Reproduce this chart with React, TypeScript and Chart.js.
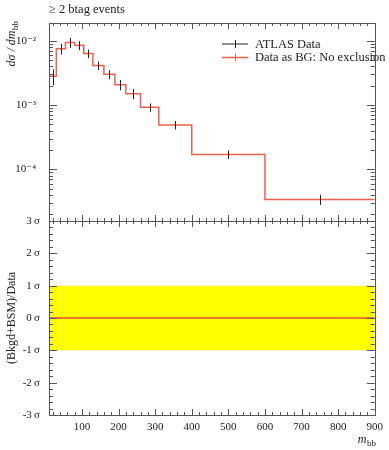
import React, { useEffect, useRef } from "react";
import { Chart, registerables } from "chart.js";
Chart.register(...registerables);

// ---- data ----
const binEdges = [10, 30, 55, 80, 105, 130, 160, 190, 220, 260, 310, 400, 600, 900];
const xsec = [2.8e-3, 7.5e-3, 9.4e-3, 8.5e-3, 6.3e-3, 4.1e-3, 3.0e-3, 2.07e-3, 1.5e-3, 9.2e-4, 4.9e-4, 1.7e-4, 3.4e-5];
const relErr = [0.28, 0.19, 0.18, 0.16, 0.15, 0.15, 0.16, 0.18, 0.18, 0.15, 0.15, 0.15, 0.18];
const ratioValues = [0, 0]; // deviation in sigma at x range ends
const bandLimits = [-1, 1];
const xTicks = [100, 200, 300, 400, 500, 600, 700, 800, 900];
const yTicksTop = [1e-4, 1e-3, 1e-2];
const yTickLabelsTop = ["10\u207B\u2074", "10\u207B\u00B3", "10\u207B\u00B2"];
const sigmaTicks = [-3, -2, -1, 0, 1, 2, 3];
const legendLabels = ["ATLAS Data", "Data as BG: No exclusion"];
const titleText = "\u2265 2 btag events";

const X_MIN = 10;
const X_MAX = 900;
const Y_MIN = 1.57e-5;
const Y_MAX = 0.01884;

const SERIF = "'Liberation Serif', 'DejaVu Serif', serif";
const RED = "#f0604a";
const AXIS = "#555";
const TEXT = "#222";

const overlay = {
  id: "overlay",
  afterDatasetsDraw(chart: any) {
    const { ctx, scales } = chart;
    const x = scales.x;
    const yt = scales.y;
    const yb = scales.y2;
    ctx.save();

    // error bars
    ctx.strokeStyle = "#222";
    ctx.lineWidth = 1;
    xsec.forEach((v, i) => {
      const cx = Math.round(x.getPixelForValue((binEdges[i] + binEdges[i + 1]) / 2)) + 0.5;
      const e = v * relErr[i];
      ctx.beginPath();
      ctx.moveTo(cx, yt.getPixelForValue(v + e));
      ctx.lineTo(cx, yt.getPixelForValue(v - e));
      ctx.stroke();
    });

    const L = x.left;
    const R = x.right;
    ctx.strokeStyle = AXIS;
    ctx.lineWidth = 1;
    const line = (x1: number, y1: number, x2: number, y2: number) => {
      ctx.beginPath();
      ctx.moveTo(x1, y1);
      ctx.lineTo(x2, y2);
      ctx.stroke();
    };
    const r = (v: number) => Math.round(v) + 0.5;

    const panels = [
      { top: yt.top, bottom: yt.bottom },
      { top: yb.top, bottom: yb.bottom },
    ];
    // frames
    panels.forEach((p) => {
      ctx.strokeRect(r(L), r(p.top), Math.round(R - L), Math.round(p.bottom - p.top));
    });
    // x ticks
    panels.forEach((p) => {
      for (let v = 20; v < X_MAX; v += 20) {
        const px = r(x.getPixelForValue(v));
        const len = v % 100 === 0 ? 6 : 3;
        line(px, p.top, px, p.top + len);
        line(px, p.bottom, px, p.bottom - len);
      }
    });
    // log y ticks
    for (let n = -5; n <= -2; n++) {
      for (let k = 1; k <= 9; k++) {
        const v = k * Math.pow(10, n);
        if (v <= Y_MIN || v >= Y_MAX) continue;
        const py = r(yt.getPixelForValue(v));
        const len = k === 1 ? 8 : 4;
        line(L, py, L + len, py);
        line(R, py, R - len, py);
      }
    }
    // sigma ticks
    for (let i = -15; i <= 15; i++) {
      const v = i / 5;
      const py = r(yb.getPixelForValue(v));
      const len = i % 5 === 0 ? 8 : 4;
      line(L, py, L + len, py);
      line(R, py, R - len, py);
    }

    // legend
    const legendColors = ["#222", RED];
    const legendY = [44, 57.5];
    legendLabels.forEach((lab, i) => {
      ctx.strokeStyle = legendColors[i];
      ctx.lineWidth = i === 1 ? 1.5 : 1;
      line(222, legendY[i], 248, legendY[i]);
      ctx.lineWidth = 1;
      line(235.5, legendY[i] - 4, 235.5, legendY[i] + 4);
      ctx.fillStyle = TEXT;
      ctx.font = `12.5px ${SERIF}`;
      ctx.textAlign = "left";
      ctx.textBaseline = "middle";
      ctx.fillText(lab, 255, legendY[i] + 0.5);
    });

    // title
    ctx.fillStyle = TEXT;
    ctx.textBaseline = "alphabetic";
    ctx.textAlign = "left";
    ctx.font = `12.5px ${SERIF}`;
    ctx.fillText(titleText, 49, 13);

    // top y label: dσ / dm_bb (rotated)
    ctx.save();
    ctx.translate(15, 44);
    ctx.rotate(-Math.PI / 2);
    const mainFont = `italic 12px ${SERIF}`;
    const subFont = `9px ${SERIF}`;
    const mainTxt = "d\u03C3 / dm";
    ctx.font = mainFont;
    const w1 = ctx.measureText(mainTxt).width;
    ctx.font = subFont;
    const w2 = ctx.measureText("bb").width;
    const start = -(w1 + w2) / 2;
    ctx.font = mainFont;
    ctx.fillText(mainTxt, start, 0);
    ctx.font = subFont;
    ctx.fillText("bb", start + w1 + 0.5, 3);
    ctx.restore();

    // bottom y label
    ctx.save();
    ctx.translate(15, 318);
    ctx.rotate(-Math.PI / 2);
    ctx.font = `12px ${SERIF}`;
    ctx.textAlign = "center";
    ctx.fillText("(Bkgd+BSM)/Data", 0, 0);
    ctx.restore();

    // x label m_bb
    ctx.font = subFont;
    const wb = ctx.measureText("bb").width;
    ctx.textAlign = "right";
    ctx.fillText("bb", 376, 446);
    ctx.font = `italic 12px ${SERIF}`;
    ctx.fillText("m", 376 - wb - 0.5, 443);

    ctx.restore();
  },
};

export default function App() {
  const ref = useRef<HTMLCanvasElement | null>(null);
  useEffect(() => {
    if (!ref.current) return;
    const stepPts: { x: number; y: number }[] = [];
    xsec.forEach((v, i) => {
      stepPts.push({ x: binEdges[i], y: v });
      stepPts.push({ x: binEdges[i + 1], y: v });
    });
    const tickFont = { family: SERIF, size: 11 };
    const chart = new Chart(ref.current, {
      type: "line",
      data: {
        datasets: [
          {
            label: legendLabels[1],
            data: stepPts,
            yAxisID: "y",
            borderColor: RED,
            borderWidth: 1.5,
            pointRadius: 0,
            fill: false,
            order: 0,
          },
          {
            label: "ratio",
            data: [
              { x: X_MIN, y: ratioValues[0] },
              { x: X_MAX, y: ratioValues[1] },
            ],
            yAxisID: "y2",
            borderColor: "#f04a30",
            borderWidth: 1.5,
            pointRadius: 0,
            fill: false,
            order: 1,
          },
          {
            label: "band",
            data: [
              { x: X_MIN, y: bandLimits[1] },
              { x: X_MAX, y: bandLimits[1] },
            ],
            yAxisID: "y2",
            borderColor: "rgba(0,0,0,0)",
            borderWidth: 0,
            backgroundColor: "#ffff00",
            pointRadius: 0,
            fill: { value: bandLimits[0] },
            order: 2,
          },
        ] as any,
      },
      options: {
        animation: false,
        responsive: false,
        maintainAspectRatio: false,
        layout: { padding: { top: 23, right: 14, left: 0, bottom: 0 } },
        plugins: { legend: { display: false }, tooltip: { enabled: false } },
        scales: {
          x: {
            type: "linear",
            min: X_MIN,
            max: X_MAX,
            position: "bottom",
            grid: { display: false, drawTicks: false },
            border: { display: false },
            afterBuildTicks: (s: any) => {
              s.ticks = xTicks.map((v) => ({ value: v }));
            },
            afterFit: (s: any) => {
              s.height = 35;
            },
            ticks: { padding: 6, font: tickFont, color: TEXT, autoSkip: false, maxRotation: 0 },
          },
          y2: {
            type: "linear",
            min: -3,
            max: 3,
            position: "left",
            stack: "v",
            stackWeight: 194,
            grid: { display: false, drawTicks: false },
            border: { display: false },
            afterBuildTicks: (s: any) => {
              s.ticks = sigmaTicks.map((v) => ({ value: v }));
            },
            afterFit: (s: any) => {
              s.width = 49;
            },
            ticks: {
              padding: 9,
              font: tickFont,
              color: TEXT,
              autoSkip: false,
              callback: (v: any) => `${v}\u2009\u03C3`,
            },
          },
          y: {
            type: "logarithmic",
            min: Y_MIN,
            max: Y_MAX,
            position: "left",
            stack: "v",
            stackWeight: 198,
            grid: { display: false, drawTicks: false },
            border: { display: false },
            afterBuildTicks: (s: any) => {
              s.ticks = yTicksTop.map((v) => ({ value: v }));
            },
            afterFit: (s: any) => {
              s.width = 49;
            },
            ticks: {
              padding: 13,
              font: tickFont,
              color: TEXT,
              autoSkip: false,
              callback: (v: any) => {
                const i = yTicksTop.findIndex((t) => Math.abs(t - v) / t < 1e-6);
                return i >= 0 ? yTickLabelsTop[i] : "";
              },
            },
          },
        } as any,
      },
      plugins: [overlay],
    });
    return () => chart.destroy();
  }, []);
  return (
    <div style={{ position: "absolute", left: 0, top: 0, width: 389, height: 450, background: "#fff" }}>
      <canvas ref={ref} width={389} height={450} style={{ display: "block" }} />
    </div>
  );
}
